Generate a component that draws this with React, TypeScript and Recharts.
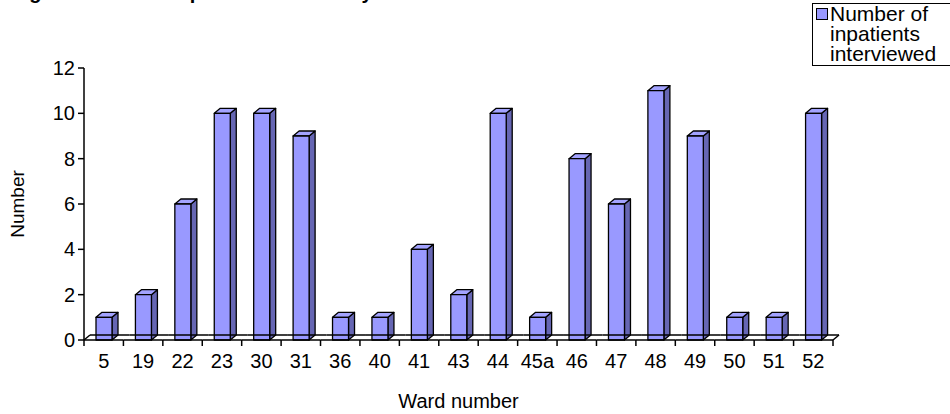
import React from "react";
import { BarChart, Bar, XAxis, YAxis, Legend } from "recharts";

const wards = ["5", "19", "22", "23", "30", "31", "36", "40", "41", "43", "44", "45a", "46", "47", "48", "49", "50", "51", "52"];
const inpatients = [1, 2, 6, 10, 10, 9, 1, 1, 4, 2, 10, 1, 8, 6, 11, 9, 1, 1, 10];
const yTicks = [0, 2, 4, 6, 8, 10, 12];
const seriesName = "Number of inpatients interviewed";
const title = "Figure 1: Number of inpatients interviewed by ward";

const data = wards.map((ward, i) => ({ ward, inpatients: inpatients[i] }));

const FONT = '"Liberation Sans", Arial, sans-serif';
const FACE = "#9999FF";
const SIDE = "#6666B3";
const TOP = "#A3A3FF";
// 3D depth offset
const DX = 6;
const DY = 5;

function Bar3D(props: any) {
  const { x, y, width, height } = props;
  if (height == null || isNaN(height)) return null;
  const r = x + width;
  const b = y + height;
  return (
    <g stroke="#000" strokeWidth={1.3} strokeLinejoin="round">
      <polygon points={`${r},${y} ${r + DX},${y - DY} ${r + DX},${b - DY} ${r},${b}`} fill={SIDE} />
      <polygon points={`${x},${y} ${x + DX},${y - DY} ${r + DX},${y - DY} ${r},${y}`} fill={TOP} />
      <rect x={x} y={y} width={width} height={height} fill={FACE} />
    </g>
  );
}

function WardTick(props: any) {
  const { x, y, payload, index, visibleTicksCount } = props;
  const half = payload.offset || 19.7;
  const left = x - half;
  const right = x + half;
  const last = index === visibleTicksCount - 1;
  return (
    <g>
      {/* floor segment */}
      <line x1={left} y1={y} x2={right} y2={y} stroke="#000" strokeWidth={1.5} />
      <line x1={left + DX} y1={y - DY} x2={right + DX} y2={y - DY} stroke="#000" strokeWidth={1.5} />
      {index === 0 && <line x1={left} y1={y} x2={left + DX} y2={y - DY} stroke="#000" strokeWidth={1.5} />}
      {last && <line x1={right} y1={y} x2={right + DX} y2={y - DY} stroke="#000" strokeWidth={1.5} />}
      {index === 0 && <line x1={left} y1={y} x2={left} y2={y + 6} stroke="#000" strokeWidth={1.5} />}
      <line x1={right} y1={y} x2={right} y2={y + 6} stroke="#000" strokeWidth={1.5} />
      <text x={x} y={y + 28} textAnchor="middle" fontFamily={FONT} fontSize={20} fill="#000">
        {payload.value}
      </text>
    </g>
  );
}

function LegendBox(props: any) {
  const item = (props.payload && props.payload[0]) || { value: seriesName };
  return (
    <div
      style={{
        border: "1.5px solid #000",
        background: "#fff",
        width: 170,
        boxSizing: "border-box",
        padding: "0px 4px 1px 3px",
        display: "flex",
        alignItems: "flex-start",
        fontFamily: FONT,
        fontSize: 21,
        lineHeight: "20px",
        color: "#000",
      }}
    >
      <span
        style={{
          width: 10,
          height: 10,
          background: FACE,
          border: "1.5px solid #000",
          marginTop: 4,
          marginRight: 2,
          flexShrink: 0,
        }}
      />
      <span style={{ width: 125 }}>{item.value}</span>
    </div>
  );
}

export default function App() {
  return (
    <div style={{ position: "absolute", left: 0, top: 0, width: 950, height: 414, overflow: "hidden", background: "#fff" }}>
      <div
        style={{
          position: "absolute",
          left: 15,
          top: -18,
          fontFamily: FONT,
          fontSize: 20,
          letterSpacing: -1.75,
          lineHeight: "20px",
          fontWeight: "bold",
          whiteSpace: "nowrap",
          color: "#000",
        }}
      >
        {title}
      </div>
      <BarChart width={950} height={414} data={data} margin={{ top: 68, right: 117, bottom: 0, left: 0 }}>
        <YAxis
          domain={[0, 12]}
          ticks={yTicks}
          interval={0}
          width={84}
          axisLine={{ stroke: "#000", strokeWidth: 1.5 }}
          tickLine={{ stroke: "#000", strokeWidth: 1.5 }}
          tickSize={6}
          tickMargin={3}
          tick={{ fontFamily: FONT, fontSize: 20, fill: "#000" }}
          label={(p: any) => {
            const vb = p.viewBox;
            const cx = vb.x + 17;
            const cy = vb.y + vb.height / 2;
            return (
              <text
                x={cx}
                y={cy}
                transform={`rotate(-90 ${cx} ${cy})`}
                textAnchor="middle"
                dominantBaseline="central"
                fontFamily={FONT}
                fontSize={19}
                fill="#000"
              >
                Number
              </text>
            );
          }}
        />
        <XAxis
          dataKey="ward"
          interval={0}
          height={74}
          axisLine={false}
          tickLine={false}
          tickSize={0}
          tickMargin={0}
          tick={<WardTick />}
          label={(p: any) => {
            const vb = p.viewBox;
            return (
              <text x={vb.x + vb.width / 2} y={vb.y + 68} textAnchor="middle" fontFamily={FONT} fontSize={20} fill="#000">
                Ward number
              </text>
            );
          }}
        />
        <Legend
          layout="horizontal"
          verticalAlign="middle"
          align="center"
          wrapperStyle={{ position: "absolute", left: 812, top: 3, width: "auto" }}
          content={<LegendBox />}
        />
        <Bar dataKey="inpatients" name={seriesName} barSize={16} shape={<Bar3D />} isAnimationActive={false} />
      </BarChart>
    </div>
  );
}
